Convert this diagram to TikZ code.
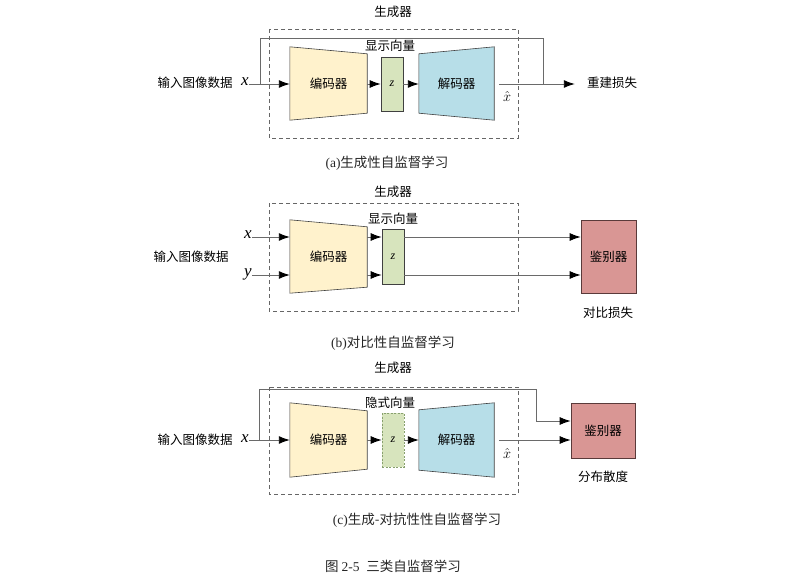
\documentclass[tikz,border=0pt]{standalone}
\usepackage{fontspec}
\setmainfont{Liberation Serif}
\newfontfamily\cjk{Noto Sans CJK SC}
\usetikzlibrary{arrows.meta,calc}
\definecolor{encfill}{HTML}{FFF2CC}
\definecolor{decfill}{HTML}{B7DEE8}
\definecolor{zfill}{HTML}{D7E4BD}
\definecolor{zline}{HTML}{8AA86A}
\definecolor{discfill}{HTML}{D99694}
\definecolor{discline}{HTML}{5A3A3A}
\definecolor{lncol}{HTML}{6A6A6A}
\definecolor{boxcol}{HTML}{404040}
\begin{document}
\begin{tikzpicture}[x=1pt,y=-1pt,
  lbl/.style={font=\cjk\fontsize{12.5}{14}\selectfont, inner sep=0pt},
  captxt/.style={font=\cjk\fontsize{13.5}{16}\selectfont, inner sep=0pt, text=black!85},
  var/.style={font=\itshape\fontsize{17}{17}\selectfont, inner sep=0pt},
  hatvar/.style={font=\fontsize{15}{15}\selectfont, inner sep=0pt},
  blk/.style={inner sep=0pt, font=\cjk\fontsize{12.5}{14}\selectfont},
  trapdraw/.style={draw=boxcol, line width=0.6pt},
  zbox/.style={draw=boxcol, fill=zfill, line width=0.6pt, inner sep=0pt, minimum width=22pt, font=\itshape\fontsize{12}{12}\selectfont},
  discbox/.style={draw=discline, fill=discfill, line width=0.6pt, inner sep=0pt, font=\cjk\fontsize{12.5}{14}\selectfont},
  genbox/.style={draw=black!60, dashed, dash pattern=on 4pt off 3pt, line width=0.7pt},
  ln/.style={draw=lncol, line width=0.9pt},
  arr/.style={ln, -{Latex[length=11pt,width=8pt,color=black]}}
]
\useasboundingbox (0,0) rectangle (808,575);

% ================= (a) =================
\node[lbl] (genA) at (393,12) {生成器};
\draw[genbox] (269,29) rectangle (518,138);
\node[lbl] (inA) at (195,83) {输入图像数据};
\node[var] (xA) at (245,82) {x};
\node[blk, minimum width=77pt, minimum height=73pt] (encA) at (328.5,83.5) {};
\draw[trapdraw, fill=encfill] (encA.north west) -- ($(encA.north east)+(0,7)$) -- ($(encA.south east)+(0,-7)$) -- (encA.south west) -- cycle;
\node[blk] at (encA) {编码器};
\node[zbox, minimum height=54pt] (zA) at (392,84) {z};
\node[blk, minimum width=75pt, minimum height=73pt] (decA) at (456.5,83.5) {};
\draw[trapdraw, fill=decfill] ($(decA.north west)+(0,7)$) -- (decA.north east) -- (decA.south east) -- ($(decA.south west)+(0,-7)$) -- cycle;
\node[blk] at (decA) {解码器};
\node[lbl, fill=white, inner sep=0.5pt] (latA) at (390,46) {显示向量};
\node[hatvar] (xhA) at (507,97) {$\hat{x}$};
\node[lbl] (lossA) at (612,83) {重建损失};
\coordinate (fbA) at (260,84);
\coordinate (fbAtop) at (543,38);
\draw[arr] (xA.east |- fbA) -- (encA.west |- fbA);
\draw[arr] (encA.east |- zA.west) -- (zA.west);
\draw[arr] (zA.east) -- (decA.west |- zA.east);
\draw[arr, shorten <=5pt, shorten >=12pt] (decA.east |- fbA) -- (lossA.west |- fbA);
\draw[ln] (fbA) |- (fbAtop) -- (fbAtop |- fbA);
\node[captxt] (capA) at (387,163) {\rmfamily(a)\cjk 生成性自监督学习};

% ================= (b) =================
\node[lbl] (genB) at (393,192) {生成器};
\draw[genbox] (269,203) rectangle (518,311);
\node[lbl] (inB) at (191,257) {输入图像数据};
\node[var] (xB) at (248,235) {x};
\node[var] (yB) at (248,274) {y};
\coordinate (rowB1) at (0,237);
\coordinate (rowB2) at (0,275);
\node[blk, minimum width=77pt, minimum height=73pt] (encB) at (328.5,256.5) {};
\draw[trapdraw, fill=encfill] (encB.north west) -- ($(encB.north east)+(0,7)$) -- ($(encB.south east)+(0,-6)$) -- (encB.south west) -- cycle;
\node[blk] at (encB) {编码器};
\node[zbox, minimum height=55pt] (zB) at (393,256.5) {z};
\node[lbl, fill=white, inner sep=0.5pt] (latB) at (393,219) {显示向量};
\node[discbox, minimum width=55pt, minimum height=73pt] (discB) at (608.5,256.5) {鉴别器};
\node[lbl] (lossB) at (608,313) {对比损失};
\draw[arr] (xB.east |- rowB1) -- (encB.west |- rowB1);
\draw[arr] (yB.east |- rowB2) -- (encB.west |- rowB2);
\draw[arr] (encB.east |- rowB1) -- (zB.west |- rowB1);
\draw[arr] (encB.east |- rowB2) -- (zB.west |- rowB2);
\draw[arr] (zB.east |- rowB1) -- (discB.west |- rowB1);
\draw[arr] (zB.east |- rowB2) -- (discB.west |- rowB2);
\node[captxt] (capB) at (393,343) {\rmfamily(b)\cjk 对比性自监督学习};

% ================= (c) =================
\node[lbl] (genC) at (393,368) {生成器};
\draw[genbox] (269,387) rectangle (518,494);
\node[lbl] (inC) at (195,440) {输入图像数据};
\node[var] (xC) at (245,439) {x};
\node[blk, minimum width=77pt, minimum height=74pt] (encC) at (328.5,440) {};
\draw[trapdraw, fill=encfill] (encC.north west) -- ($(encC.north east)+(0,8)$) -- ($(encC.south east)+(0,-8)$) -- (encC.south west) -- cycle;
\node[blk] at (encC) {编码器};
\node[zbox, minimum height=54pt, draw=zline!80!gray, dashed, dash pattern=on 2pt off 1.5pt] (zC) at (393,440) {z};
\node[blk, minimum width=75pt, minimum height=74pt] (decC) at (456.5,440) {};
\draw[trapdraw, fill=decfill] ($(decC.north west)+(0,7)$) -- (decC.north east) -- (decC.south east) -- ($(decC.south west)+(0,-7)$) -- cycle;
\node[blk] at (decC) {解码器};
\node[lbl, fill=white, inner sep=0.5pt] (latC) at (390,403) {隐式向量};
\node[hatvar] (xhC) at (507,453) {$\hat{x}$};
\node[discbox, minimum width=64pt, minimum height=55pt] (discC) at (603,430.5) {鉴别器};
\node[lbl] (lossC) at (603,477) {分布散度};
\coordinate (fbC) at (259,440);
\coordinate (fbCk) at (536,389);
\coordinate (fbCd) at (0,421);
\draw[arr] (xC.east |- encC.west) -- (encC.west);
\draw[arr] (encC.east) -- (zC.west);
\draw[arr] (zC.east) -- (decC.west);
\draw[arr, shorten <=5pt] (decC.east) -- (decC.east -| discC.west);
\draw[arr] (fbC) |- (fbCk) |- (discC.west |- fbCd);
\node[captxt] (capC) at (417,520) {\rmfamily(c)\cjk 生成-对抗性性自监督学习};

\node[captxt] (fig) at (393,566) {\cjk 图 \rmfamily 2-5\ \ \cjk 三类自监督学习};
\end{tikzpicture}
\end{document}
